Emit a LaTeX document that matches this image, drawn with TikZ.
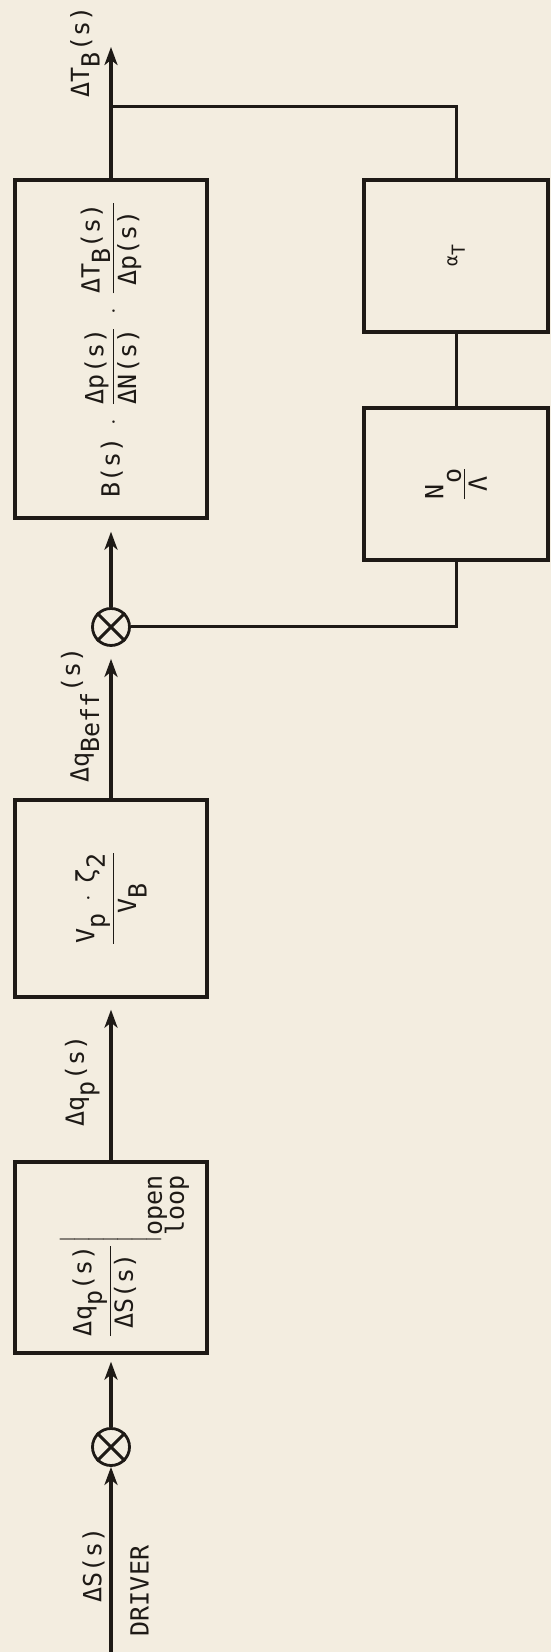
\documentclass[tikz,border=0pt]{standalone}
\usepackage{amsmath}
\usepackage{fontspec}
\setmainfont{DejaVu Sans Mono}
\usetikzlibrary{arrows.meta,positioning}
\definecolor{paperTone}{RGB}{243,237,224}
\definecolor{inkTone}{RGB}{30,26,22}
\newcommand{\lowr}[1]{\raisebox{-0.42em}{#1}}
\newcommand{\upr}[1]{\raisebox{0.35em}{#1}}
\newcommand{\olsub}{\smash{\mbox{\begin{tabular}[t]{@{}l@{}}open\\[-4pt]loop\end{tabular}}}}
\newcommand{\tallstrut}{\vrule width 0pt height 27.5pt depth 21.5pt}

\begin{document}
\begin{tikzpicture}[x=1pt, y=1pt, rotate=90, transform shape,
    blk/.style={draw=inkTone, line width=1.7pt, inner sep=0pt,
                minimum height=96pt, text=inkTone,
                font=\fontsize{12.5}{15}\selectfont},
    smalltxt/.style={font=\fontsize{9}{11}\selectfont},
    sumpt/.style={circle, draw=inkTone, line width=1.4pt,
                  minimum size=18.5pt, inner sep=0pt},
    sig/.style={-{Stealth[length=9pt,width=6.5pt,inset=2.5pt]},
                line width=1.6pt, draw=inkTone},
    ln/.style={line width=1.5pt, draw=inkTone},
    lbl/.style={inner sep=0pt, text=inkTone,
                font=\fontsize{12.5}{15}\selectfont}]
  \useasboundingbox[fill=paperTone] (0,0) rectangle (826,-275.5);
  \coordinate (drv) at (0,-55.5);
  \node[sumpt] (sumA) at (102.5,-55.5) {};
  \node[blk, minimum width=95.5pt] (olgain) at (197.25,-55.5)
    {$\left.\tallstrut\dfrac{\text{Δq\lowr{p}(s)}}{\text{ΔS(s)}}\right|_{\olsub}$};
  \node[blk, minimum width=98.5pt] (volratio) at (376.75,-55.5)
    {$\dfrac{\text{V\lowr{p}}\;\cdot\;\text{ζ\lowr{2}}}{\text{V\lowr{B}}}$};
  \node[sumpt] (sumB) at (512.5,-55.5) {};
  \node[blk, minimum width=169pt] (plant) at (651.5,-55.5)
    {$\text{B(s)}\;\cdot\;\dfrac{\text{Δp(s)}}{\text{ΔN(s)}}\;\cdot\;
      \dfrac{\text{ΔT\lowr{B}(s)}}{\text{Δp(s)}}$};
  \coordinate (tap) at (772.5,-55.5);
  \coordinate (outp) at (802.5,-55.5);
  \node[blk, smalltxt, minimum width=76pt, minimum height=92pt] (alphaT)
    at (698,-228) {α\lowr{T}};
  \node[blk, minimum width=76pt, minimum height=92pt] (nratio)
    at (584,-228) {$\dfrac{\text{N\raisebox{-0.7em}{o}}}{\text{Λ}}$};
  \coordinate (tapR) at (772.5,-228);
  \coordinate (fbR) at (512.5,-228);
  \node[lbl, anchor=south] (sigS) at (43.5,-52.5) {ΔS(s)};
  \node[lbl, anchor=north] (drvtxt) at (30.5,-65) {DRIVER};
  \node[lbl, anchor=south] (sigQp) at (285.5,-50) {Δq\lowr{p}(s)};
  \node[lbl, anchor=south] (sigQb) at (468.5,-50) {Δq\lowr{Beff}\upr{(s)}};
  \node[lbl, anchor=south] (sigT) at (800,-50) {ΔT\lowr{B}(s)};
  \draw[sig] (drv) -- (sumA);
  \draw[sig, shorten >=3.5pt] (sumA) -- (olgain);
  \draw[sig, shorten >=5.5pt] (olgain) -- (volratio);
  \draw[sig, shorten >=6pt] (volratio) -- (sumB);
  \draw[sig, shorten >=6pt] (sumB) -- (plant);
  \draw[sig] (plant) -- (outp);
  \draw[ln] (tap) -- (tapR) -- (alphaT);
  \draw[ln] (alphaT) -- (nratio);
  \draw[ln] (nratio) -- (fbR) -- (sumB);
  \draw[ln] (sumA.45) -- (sumA.225) (sumA.135) -- (sumA.315);
  \draw[ln] (sumB.45) -- (sumB.225) (sumB.135) -- (sumB.315);
\end{tikzpicture}
\end{document}
